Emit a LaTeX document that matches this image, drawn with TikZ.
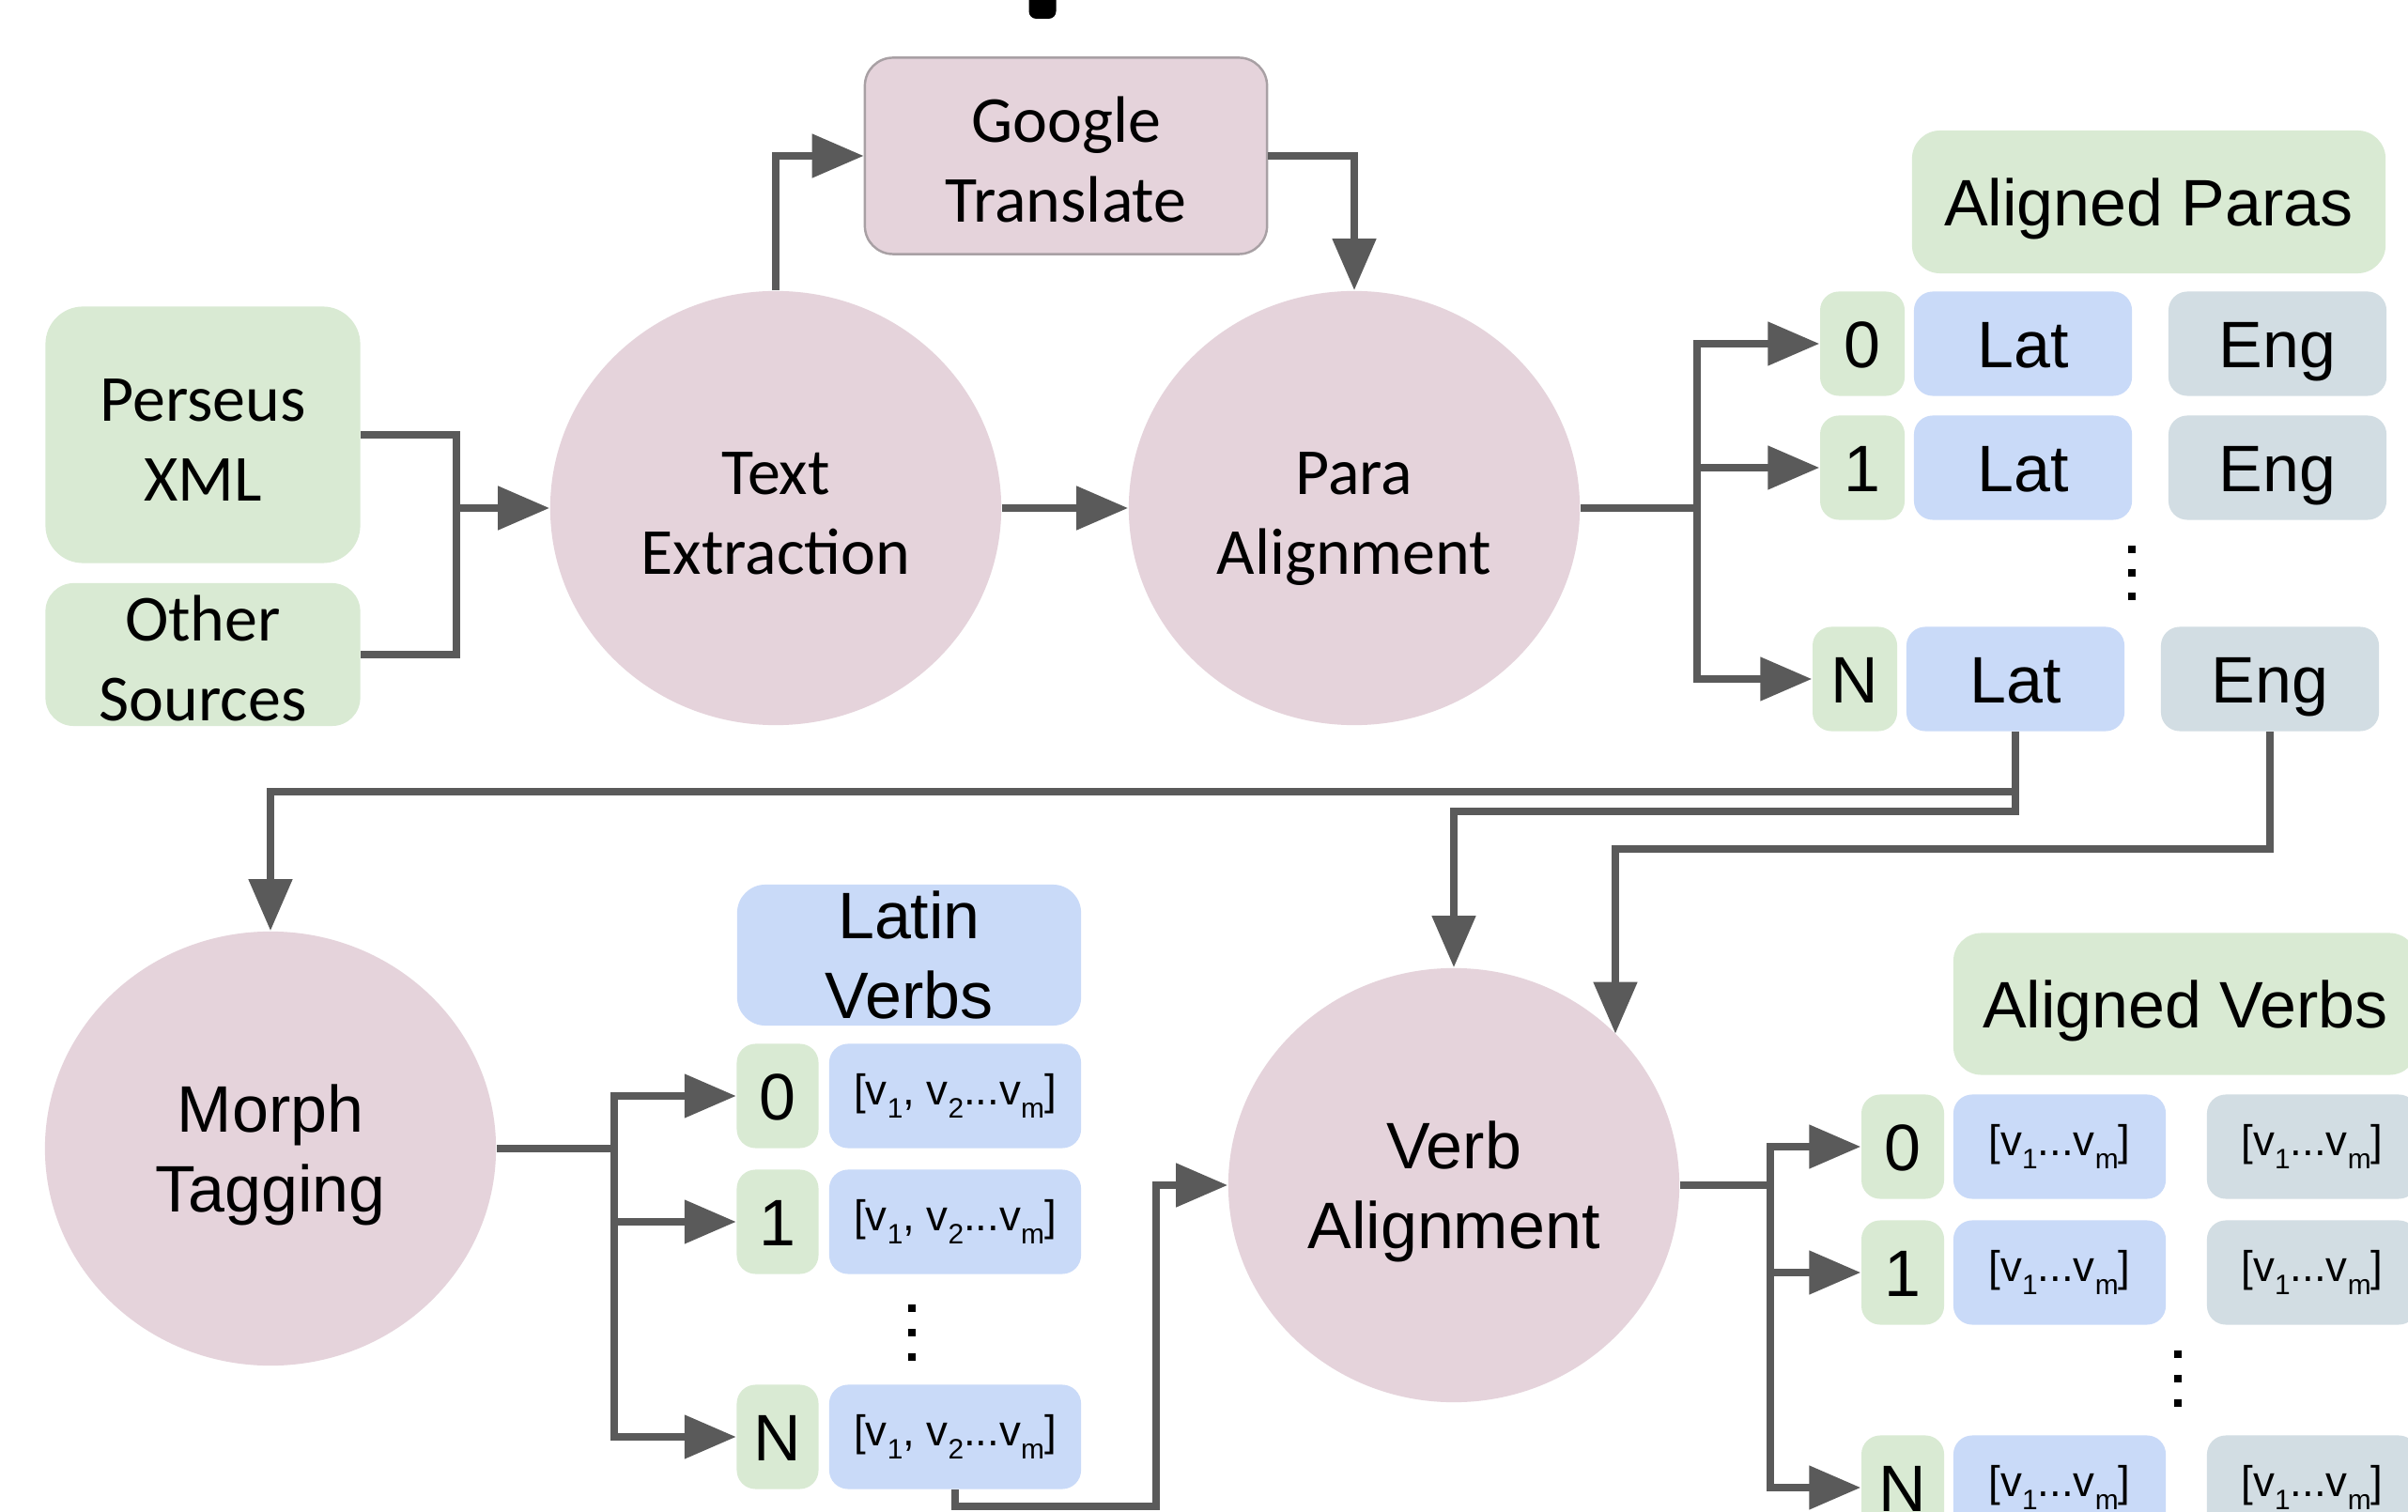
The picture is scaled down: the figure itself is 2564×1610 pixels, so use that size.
\documentclass[tikz,border=0pt]{standalone}
\usepackage{fontspec}
\setmainfont{Liberation Sans}
\newfontfamily\calib{Carlito}
\usetikzlibrary{shapes.geometric,arrows.meta}

\definecolor{procfill}{HTML}{E5D3DB}
\definecolor{greenc}{HTML}{D9EAD3}
\definecolor{bluec}{HTML}{C9DAF8}
\definecolor{engc}{HTML}{D2DDE3}
\definecolor{linegray}{HTML}{5A5A5A}
\definecolor{gtborder}{HTML}{A8A0A4}

\newcommand\arialbig{\fontsize{19.9}{24.2}\selectfont}
\newcommand\calibbig{\calib\fontsize{19.9}{24.2}\selectfont}
\newcommand\vecfont{\fontsize{13}{15}\selectfont}
\newcommand\vsub[1]{\raisebox{-0.32em}{\fontsize{8.5}{9}\selectfont #1}}

\tikzset{
  conn/.style={line width=2.3pt, draw=linegray},
  arr/.style={conn, -{Triangle[length=0.55cm,width=0.45cm]}},
  % vertical placement of label text, centred on cap height
  oneline/.style={text height=14.25pt, text depth=0pt},
  twoarial/.style={font=\arialbig, text height=38.5pt, text depth=0pt},
  twocalib/.style={font=\calibbig, text height=40pt, text depth=0pt},
  proc/.style={ellipse, fill=procfill, minimum width=4.8cm, minimum height=4.62cm,
    inner sep=0pt, align=center},
  box/.style={rectangle, rounded corners=0.2cm, inner sep=0pt, align=center, font=\arialbig},
  gbox/.style={box, fill=greenc},
  bbox/.style={box, fill=bluec},
  ebox/.style={box, fill=engc},
  rowbox/.style={minimum height=1.11cm},
  idxbox/.style={gbox, rowbox, oneline, minimum width=0.9cm},
  vdot/.style={rectangle, fill=black, minimum size=0.075cm, inner sep=0pt},
}

\begin{document}
\begin{tikzpicture}[x=0.01cm, y=-0.01cm]
\useasboundingbox (0,0) rectangle (2564,1610);
\fill[white] (0,0) rectangle (2564,1610);

% small dark tab at the top edge
\node[fill=black, minimum width=0.29cm, minimum height=0.4cm, rounded corners=0.08cm, inner sep=0pt] (tab) at (1110,0) {};

% sources
\node[gbox, twocalib, rounded corners=0.4cm, minimum width=3.35cm, minimum height=2.73cm] (pers) at (216,463) {Perseus\\XML};
\node[gbox, twocalib, rounded corners=0.3cm, minimum width=3.35cm, minimum height=1.52cm] (other) at (216,697) {Other\\Sources};

% first-stage processes
\node[proc, twocalib] (te) at (826,541) {Text\\Extraction};
\node[proc, twocalib] (pa) at (1442,541) {Para\\Alignment};
\node[box, twocalib, fill=procfill, draw=gtborder, line width=0.7pt, rounded corners=0.3cm,
      minimum width=4.28cm, minimum height=2.09cm] (gt) at (1135,166) {Google\\Translate};

% aligned paragraphs
\node[gbox, oneline, rounded corners=0.3cm, minimum width=5.04cm, minimum height=1.52cm] (aphead) at (2288,215) {Aligned Paras};
\node[idxbox] (pi0) at (1983,366) {0};
\node[bbox, rowbox, oneline, minimum width=2.32cm] (pl0) at (2154,366) {Lat};
\node[ebox, rowbox, oneline, minimum width=2.32cm] (pe0) at (2425,366) {Eng};
\node[idxbox] (pi1) at (1983,498) {1};
\node[bbox, rowbox, oneline, minimum width=2.32cm] (pl1) at (2154,498) {Lat};
\node[ebox, rowbox, oneline, minimum width=2.32cm] (pe1) at (2425,498) {Eng};
\node[vdot] (pd1) at (2270,585) {};
\node[vdot] (pd2) at (2270,610) {};
\node[vdot] (pd3) at (2270,635) {};
\node[idxbox] (piN) at (1975,723) {N};
\node[bbox, rowbox, oneline, minimum width=2.32cm] (plN) at (2146,723) {Lat};
\node[ebox, rowbox, oneline, minimum width=2.32cm] (peN) at (2417,723) {Eng};

% second-stage processes
\node[proc, twoarial] (mt) at (288,1223) {Morph\\Tagging};
\node[proc, twoarial] (va) at (1548,1262) {Verb\\Alignment};

% latin verbs
\node[bbox, twoarial, rounded corners=0.3cm, minimum width=3.66cm, minimum height=1.5cm] (lvhead) at (968,1017) {Latin\\Verbs};
\node[idxbox, minimum width=0.87cm] (li0) at (828,1167) {0};
\node[bbox, rowbox, minimum width=2.68cm, font=\vecfont] (lv0) at (1017,1167) {[v\vsub{1}, v\vsub{2}...v\vsub{m}]};
\node[idxbox, minimum width=0.87cm] (li1) at (828,1301) {1};
\node[bbox, rowbox, minimum width=2.68cm, font=\vecfont] (lv1) at (1017,1301) {[v\vsub{1}, v\vsub{2}...v\vsub{m}]};
\node[vdot] (ld1) at (971,1393) {};
\node[vdot] (ld2) at (971,1419) {};
\node[vdot] (ld3) at (971,1445) {};
\node[idxbox, minimum width=0.87cm] (liN) at (828,1530) {N};
\node[bbox, rowbox, minimum width=2.68cm, font=\vecfont] (lvN) at (1017,1530) {[v\vsub{1}, v\vsub{2}...v\vsub{m}]};

% aligned verbs
\node[gbox, oneline, rounded corners=0.3cm, minimum width=4.94cm, minimum height=1.51cm] (avhead) at (2327,1069) {Aligned Verbs};
\node[idxbox, minimum width=0.88cm] (vi0) at (2026,1221) {0};
\node[bbox, rowbox, minimum width=2.26cm, font=\vecfont] (vl0) at (2193,1221) {[v\vsub{1}...v\vsub{m}]};
\node[ebox, rowbox, minimum width=2.24cm, font=\vecfont] (ve0) at (2462,1221) {[v\vsub{1}...v\vsub{m}]};
\node[idxbox, minimum width=0.88cm] (vi1) at (2026,1355) {1};
\node[bbox, rowbox, minimum width=2.26cm, font=\vecfont] (vl1) at (2193,1355) {[v\vsub{1}...v\vsub{m}]};
\node[ebox, rowbox, minimum width=2.24cm, font=\vecfont] (ve1) at (2462,1355) {[v\vsub{1}...v\vsub{m}]};
\node[vdot] (vd1) at (2319,1442) {};
\node[vdot] (vd2) at (2319,1468) {};
\node[vdot] (vd3) at (2319,1494) {};
\node[idxbox, minimum width=0.88cm] (viN) at (2026,1584) {N};
\node[bbox, rowbox, minimum width=2.26cm, font=\vecfont] (vlN) at (2193,1584) {[v\vsub{1}...v\vsub{m}]};
\node[ebox, rowbox, minimum width=2.24cm, font=\vecfont] (veN) at (2462,1584) {[v\vsub{1}...v\vsub{m}]};

% junction and turning points
\coordinate (srcj) at (486,541);
\coordinate (pj) at (1807,541);
\coordinate (mj) at (654,1223);
\coordinate (vj) at (1885,1262);
\coordinate (ya) at (0,843);
\coordinate (yb) at (0,864);
\coordinate (engturn) at (1720,904);
\coordinate (lvturn) at (1231,1604);

% sources into text extraction
\draw[conn] (pers.east) -| (srcj);
\draw[conn] (other.east) -| (srcj);
\draw[arr] (srcj) -- (te.west);

% translation loop and paragraph alignment
\draw[arr] (te.north) |- (gt.west);
\draw[arr] (gt.east) -| (pa.north);
\draw[arr] (te.east) -- (pa.west);
\draw[conn] (pa.east) -- (pj);
\draw[arr] (pj) |- (pi0.west);
\draw[arr] (pj) |- (pi1.west);
\draw[arr] (pj) |- (piN.west);

% aligned paragraphs feed the verb stage
\draw[arr] (plN.south) |- (mt.north |- ya) -- (mt.north);
\draw[arr] (plN.south) |- (va.north |- yb) -- (va.north);
\draw[arr] (peN.south) |- (engturn) -- (engturn |- va.43);

% morphological tagging
\draw[conn] (mt.east) -- (mj);
\draw[arr] (mj) |- (li0.west);
\draw[arr] (mj) |- (li1.west);
\draw[arr] (mj) |- (liN.west);
\draw[arr] (lvN.south) |- (lvturn) |- (va.west);

% verb alignment
\draw[conn] (va.east) -- (vj);
\draw[arr] (vj) |- (vi0.west);
\draw[arr] (vj) |- (vi1.west);
\draw[arr] (vj) |- (viN.west);
\end{tikzpicture}
\end{document}
